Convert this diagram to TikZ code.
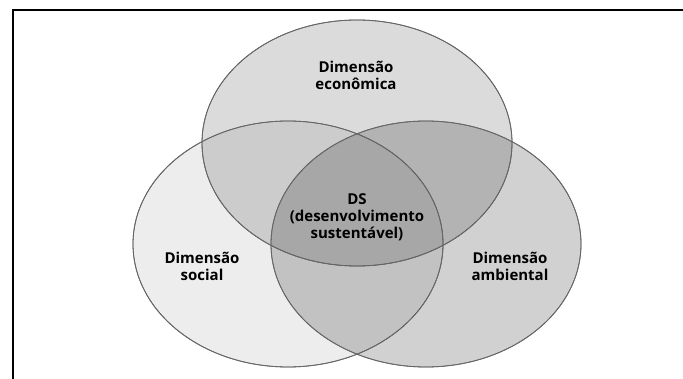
\documentclass[tikz,border=0pt]{standalone}
\usepackage{fontspec}
\setmainfont{Open Sans}[BoldFont={Open Sans Bold}]
\tikzset{
	dimensao/.style={draw=black!60, line width=0.8pt, fill=black},
	rotulo/.style={align=center, font=\bfseries\fontsize{15}{17}\selectfont, text=black, inner sep=0pt}
}
\begin{document}
\begin{tikzpicture}[x=1pt, y=-1pt]
	\useasboundingbox (0,0) rectangle (683,379);
	%%Moldura
	\draw[line width=1.3pt] (13,379) -- (13,10) -- (683,10);
	%%Elipses
	\fill[dimensao, fill opacity=0.14] (357,143) ellipse [x radius=155pt, y radius=123pt];
	\fill[dimensao, fill opacity=0.07] (288,244) ellipse [x radius=155pt, y radius=123pt];
	\fill[dimensao, fill opacity=0.18] (426,244) ellipse [x radius=155pt, y radius=123pt];
	\foreach \c in {(357,143),(288,244),(426,244)}
		\draw[draw=black!60, line width=0.8pt] \c ellipse [x radius=155pt, y radius=123pt];
	%%Rotulos
	\node[rotulo] (econ) at (356,75) {Dimensão\\econômica};
	\node[rotulo] (ds) at (357,217) {DS\\(desenvolvimento\\sustentável)};
	\node[rotulo] (social) at (202,266) {Dimensão\\social};
	\node[rotulo] (ambiental) at (510,266) {Dimensão\\ambiental};
\end{tikzpicture}
\end{document}
